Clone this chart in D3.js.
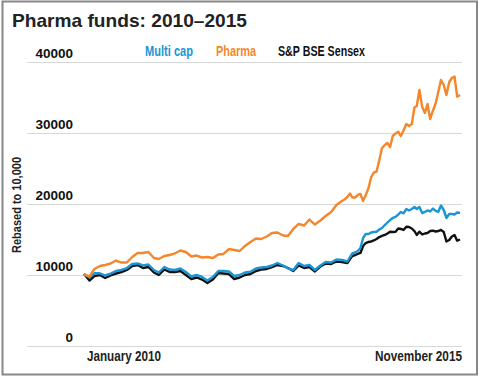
<!DOCTYPE html>
<html>
<head>
<meta charset="utf-8">
<script src="https://cdn.jsdelivr.net/npm/d3@7"></script>
<style>
  body { margin: 0; background: #fff; }
  svg { display: block; }
  text { font-family: "Liberation Sans", Arial, sans-serif; font-weight: bold; }
</style>
</head>
<body>
<div id="chart"></div>
<script>
// 2010-2013 sampled monthly, 2014-2015 twice a month
const monthlyStart = "2010-01-01", monthlyEnd = "2014-01-01", halfStart = "2014-01-01", lastDate = "2015-11-01";

const pharma = [
  10070, 9790, 10845, 11270, 11410, 11620, 12040, 11760, 11760, 12535, 13100, 13100,
  13240, 12390, 12250, 12680, 12820, 13055, 13450, 13240, 12605, 12745, 12465, 12535,
  12395, 12890, 12960, 13660, 13520, 13380, 14085, 14650, 15140, 15070, 15420, 15915,
  15985, 15565, 15490, 16480, 17185, 16970, 17815, 17110, 17675, 18310, 18870, 19860,
  20420, 20635, 20985, 21480, 20915, 20915, 21270, 21410, 20420, 21270, 22255, 23800,
  24435, 24550, 26200, 27885, 28310, 28590, 28030, 29575, 29930, 30185, 29575, 30350,
  31270, 30985, 31270, 33590, 33800, 36055, 33660, 32815, 34085, 31970, 33170, 34155,
  35775, 37465, 36760, 35350, 37180, 37745, 37960, 35115, 35350
];
const multiCap = [
  10140, 9650, 10240, 10240, 9930, 10210, 10565, 10705, 10985, 11550, 11620, 11340,
  11480, 10705, 10350, 11125, 10775, 10705, 10915, 10420, 9790, 10000, 9720, 9225,
  9720, 10565, 10565, 10495, 9860, 10000, 10350, 10465, 10915, 11055, 11125, 11340,
  11690, 11340, 10945, 10705, 11690, 11270, 11410, 10705, 11340, 11830, 11760, 12185,
  12115, 12040, 11900, 12535, 13030, 13170, 13380, 13805, 15210, 15775, 15775, 15985,
  16055, 16100, 16410, 16620, 17040, 17395, 17745, 18030, 18170, 18520, 18875, 18690,
  19295, 19085, 19295, 19575, 19295, 19575, 18730, 18875, 19085, 18945, 19365, 19015,
  18875, 19790, 19155, 18030, 18590, 18590, 18520, 18805, 18730
];
const sensex = [
  10140, 9225, 9860, 10000, 9580, 9930, 10210, 10420, 10705, 11270, 11410, 10985,
  11125, 10350, 10000, 10775, 10420, 10420, 10565, 10000, 9435, 9650, 9365, 8875,
  9365, 10280, 10210, 10140, 9435, 9650, 10000, 10140, 10565, 10775, 10845, 11125,
  11410, 11270, 10985, 10565, 11340, 10985, 11125, 10495, 11195, 11620, 11550, 11900,
  11830, 11760, 11690, 12255, 12675, 12815, 12960, 13100, 14085, 14505, 14650, 14720,
  14860, 15070, 15350, 15495, 15635, 15845, 16100, 16055, 16100, 16550, 16480, 16340,
  16805, 16760, 16550, 16195, 15635, 16100, 15705, 15845, 15915, 16195, 16240, 16125,
  16195, 16340, 16055, 14720, 14930, 15420, 15635, 14830, 15000
];

const yTicks = [0, 10000, 20000, 30000, 40000];
const seriesNames = ["Multi cap", "Pharma", "S&P BSE Sensex"];
const seriesColors = ["#1a96d4", "#f5862a", "#111111"];
const xLabels = ["January 2010", "November 2015"];

const parse = d3.utcParse("%Y-%m-%d");
// sample dates: first day of each month, then 1st and 16th
const dates = d3.utcMonth.range(parse(monthlyStart), parse(monthlyEnd));
d3.utcMonth.range(parse(halfStart), parse(lastDate)).forEach(m => {
  dates.push(m, d3.utcDay.offset(m, 15));
});
dates.push(parse(lastDate));

const W = 480, H = 381;
const svg = d3.select("#chart").append("svg").attr("width", W).attr("height", H);

// squeeze text to a width (the original uses a condensed face)
function narrow(sel, w) {
  sel.attr("textLength", w).attr("lengthAdjust", "spacingAndGlyphs");
}

// frame
svg.append("rect").attr("x", 2.5).attr("y", 1.5).attr("width", 474.5).attr("height", 373)
  .attr("fill", "#fff").attr("stroke", "#888").attr("stroke-width", 2);

svg.append("text").attr("x", 12).attr("y", 27)
  .attr("font-size", 19).attr("fill", "#222").text("Pharma funds: 2010\u20132015")
  .call(narrow, 235);

const x = d3.scaleUtc().domain([parse(monthlyStart), parse(lastDate)]).range([84, 460]);
const y = d3.scaleLinear().domain([0, 40000]).range([346, 62]);

// gridlines + tick labels
const grid = svg.append("g");
grid.selectAll("line").data(yTicks).join("line")
  .attr("x1", 27).attr("x2", 462)
  .attr("y1", d => y(d) + 0.5).attr("y2", d => y(d) + 0.5)
  .attr("stroke", "#d8d8d8").attr("stroke-width", 1);
grid.selectAll("text").data(yTicks).join("text")
  .attr("x", 73).attr("y", d => y(d) - 4.5)
  .attr("text-anchor", "end")
  .attr("font-size", 13.5).attr("fill", "#111").text(d => d);

svg.append("text")
  .attr("transform", "translate(21,205) rotate(-90)")
  .attr("text-anchor", "middle").attr("font-size", 13.5).attr("fill", "#222")
  .text("Rebased to 10,000").call(narrow, 96);

// x labels
svg.append("text").attr("x", 87).attr("y", 361)
  .attr("font-size", 14).attr("fill", "#222").text(xLabels[0]).call(narrow, 74);
svg.append("text").attr("x", 375).attr("y", 361)
  .attr("font-size", 14).attr("fill", "#222").text(xLabels[1]).call(narrow, 87);

// legend
const legendX = [145, 216, 278];
const legendW = [48, 40, 87];
svg.append("g").selectAll("text").data(seriesNames).join("text")
  .attr("x", (d, i) => legendX[i]).attr("y", 56)
  .attr("font-size", 14).attr("fill", (d, i) => seriesColors[i])
  .attr("textLength", (d, i) => legendW[i]).attr("lengthAdjust", "spacingAndGlyphs")
  .text(d => d);

// lines
const line = d3.line().x((d, i) => x(dates[i])).y(d => y(d)).curve(d3.curveLinear);
const drawOrder = [[sensex, seriesColors[2]], [multiCap, seriesColors[0]], [pharma, seriesColors[1]]];
svg.append("g").selectAll("path").data(drawOrder).join("path")
  .attr("d", d => line(d[0]))
  .attr("fill", "none").attr("stroke", d => d[1])
  .attr("stroke-width", 2.4).attr("stroke-linejoin", "round");
</script>
</body>
</html>
